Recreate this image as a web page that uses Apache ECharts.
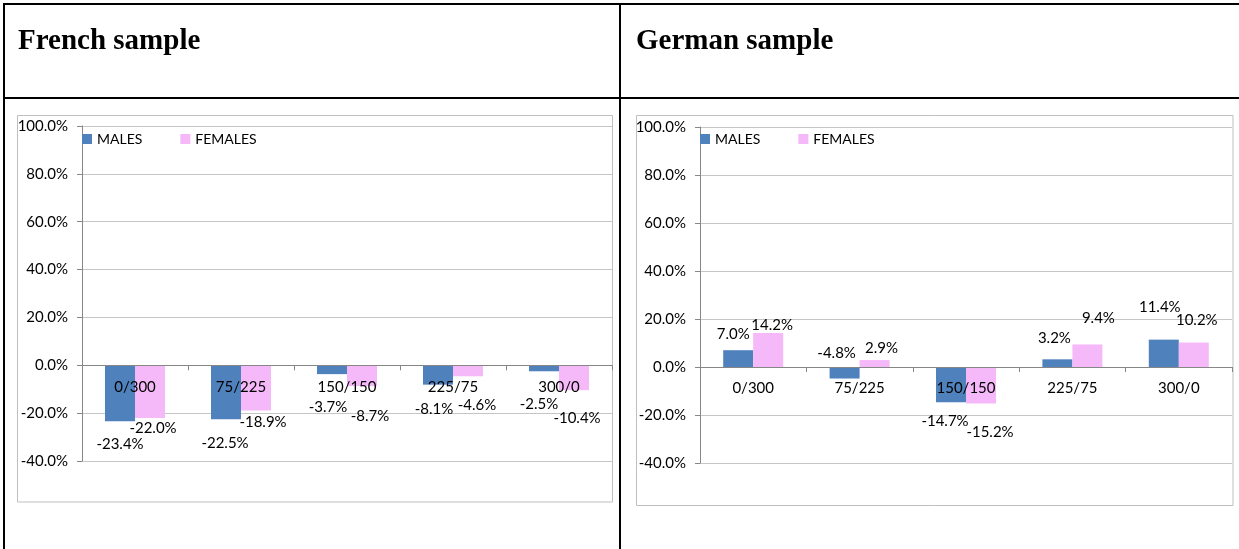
<!DOCTYPE html>
<html>
<head>
<meta charset="utf-8">
<script src="https://cdn.jsdelivr.net/npm/echarts@6/dist/echarts.min.js"></script>
<style>
html,body{margin:0;padding:0;background:#fff;}
#chart{width:1239px;height:549px;}
</style>
</head>
<body>
<div id="chart"></div>
<script>
// ---- data ----
const categories = ['0/300', '75/225', '150/150', '225/75', '300/0'];
const seriesNames = ['MALES', 'FEMALES'];
const frenchMales = [-23.4, -22.5, -3.7, -8.1, -2.5];
const frenchFemales = [-22.0, -18.9, -8.7, -4.6, -10.4];
const germanMales = [7.0, -4.8, -14.7, 3.2, 11.4];
const germanFemales = [14.2, 2.9, -15.2, 9.4, 10.2];
const yMin = -40, yMax = 100, yStep = 20;
const panelTitles = ['French sample', 'German sample'];

// ---- label nudges (px from the bar end) to follow the reference's label placement ----
const frMaleNudge = [[0, 23], [-1, 24], [-4, 33], [-4, 24], [-5, 33]];
const frFemaleNudge = [[3, 10], [7, 12], [8, 30], [9, 29], [3, 28]];
const deMaleNudge = [[-5, -16], [-8, -25], [-6, 19], [-3, -21], [-4, -32]];
const deFemaleNudge = [[4, -8], [7, -12], [9, 29], [11, -26], [3, -22]];

const BLUE = '#4F81BD', PINK = '#F5B9F9';
const FONT = 'Lato';
const pct = v => v.toFixed(1) + '%';

const grids = [
  { left: 82, top: 126, width: 530, height: 335 },
  { left: 700, top: 127, width: 532, height: 336 }
];

function items(vals, nudges) {
  return vals.map((v, i) => ({
    value: v,
    label: { position: ['50%', v >= 0 ? '0%' : '100%'], offset: nudges[i] }
  }));
}

// category axis placed on the zero line of the value scale
function xAxisCfg(gi) {
  const zeroShift = -(0 - yMin) / (yMax - yMin) * grids[gi].height;
  return {
    type: 'category', gridIndex: gi, data: categories, z: 10,
    position: 'bottom', offset: zeroShift,
    axisLine: { onZero: false, lineStyle: { color: '#868686', width: 1 } },
    axisTick: { show: true, length: 5, lineStyle: { color: '#868686' } },
    axisLabel: { margin: 14, fontSize: 15, fontFamily: FONT, color: '#000' },
    splitLine: { show: false }
  };
}
function yAxisCfg(gi) {
  return {
    type: 'value', gridIndex: gi, min: yMin, max: yMax, interval: yStep,
    axisLine: { show: true, lineStyle: { color: '#868686', width: 1 } },
    axisTick: { show: true, length: 5, lineStyle: { color: '#868686' } },
    axisLabel: { margin: 14, fontSize: 15, fontFamily: FONT, color: '#000', formatter: pct },
    splitLine: { show: true, lineStyle: { color: '#c6c6c6', width: 1 } }
  };
}
function barSeries(name, color, gi, vals, nudges) {
  return {
    name: name, type: 'bar', xAxisIndex: gi, yAxisIndex: gi,
    barWidth: 30, barGap: '0%', itemStyle: { color: color },
    label: {
      show: true, formatter: p => pct(p.value), fontSize: 15, fontFamily: FONT,
      color: '#000', align: 'center', verticalAlign: 'middle'
    },
    data: items(vals, nudges)
  };
}
function legendCfg(left, top) {
  return {
    left: left, top: top, padding: 0, itemGap: 38, itemWidth: 10, itemHeight: 10,
    icon: 'rect', data: seriesNames,
    textStyle: { fontSize: 14, fontFamily: FONT, color: '#000', lineHeight: 16 }
  };
}

const blk = { stroke: '#000', lineWidth: 2 };
const option = {
  animation: false,
  grid: grids,
  xAxis: [xAxisCfg(0), xAxisCfg(1)],
  yAxis: [yAxisCfg(0), yAxisCfg(1)],
  legend: [legendCfg(82, 131), legendCfg(700, 131)],
  series: [
    barSeries(seriesNames[0], BLUE, 0, frenchMales, frMaleNudge),
    barSeries(seriesNames[1], PINK, 0, frenchFemales, frFemaleNudge),
    barSeries(seriesNames[0], BLUE, 1, germanMales, deMaleNudge),
    barSeries(seriesNames[1], PINK, 1, germanFemales, deFemaleNudge)
  ],
  graphic: [
    { type: 'line', shape: { x1: 3, y1: 4, x2: 1239, y2: 4 }, style: blk, silent: true },
    { type: 'line', shape: { x1: 4, y1: 3, x2: 4, y2: 549 }, style: blk, silent: true },
    { type: 'line', shape: { x1: 3, y1: 98, x2: 1239, y2: 98 }, style: blk, silent: true },
    { type: 'line', shape: { x1: 620, y1: 3, x2: 620, y2: 549 }, style: blk, silent: true },
    { type: 'rect', shape: { x: 17.5, y: 115.5, width: 595, height: 386.5 }, style: { fill: null, stroke: '#bfbfbf', lineWidth: 1 }, silent: true, z: -1 },
    { type: 'rect', shape: { x: 636.5, y: 115.5, width: 596.5, height: 390 }, style: { fill: null, stroke: '#bfbfbf', lineWidth: 1 }, silent: true, z: -1 },
    { type: 'text', x: 18, y: 42, style: { text: panelTitles[0], font: 'bold 29px "Liberation Serif"', fill: '#000', textVerticalAlign: 'middle' }, silent: true },
    { type: 'text', x: 636, y: 42, style: { text: panelTitles[1], font: 'bold 29px "Liberation Serif"', fill: '#000', textVerticalAlign: 'middle' }, silent: true }
  ]
};
const chart = echarts.init(document.getElementById('chart'), null, { renderer: 'canvas' });
chart.setOption(option);
</script>
</body>
</html>
